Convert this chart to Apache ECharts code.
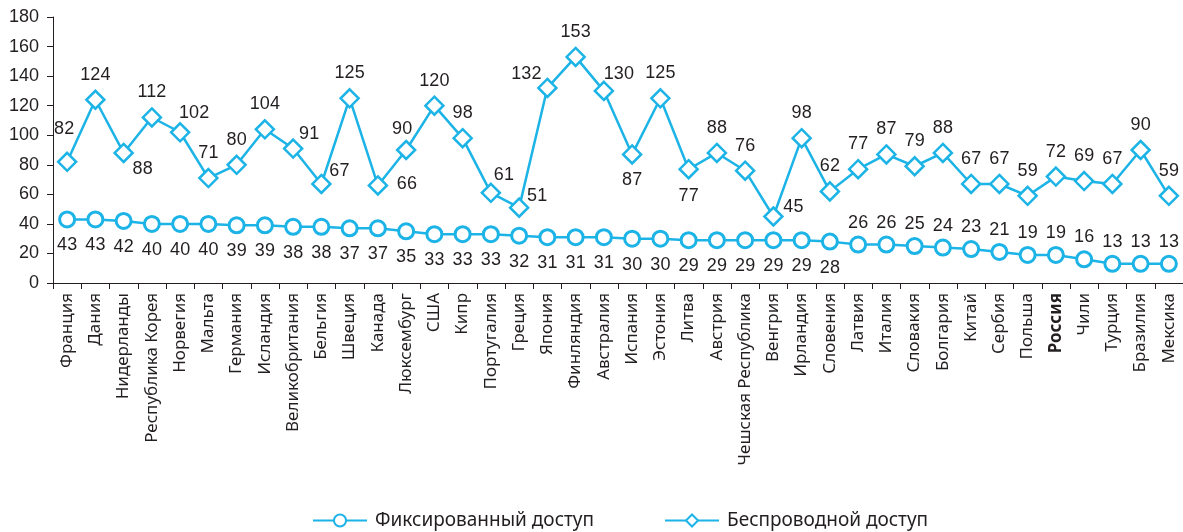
<!DOCTYPE html>
<html>
<head>
<meta charset="utf-8">
<title>Фиксированный и беспроводной доступ</title>
<script src="https://cdn.jsdelivr.net/npm/echarts@6/dist/echarts.min.js"></script>
<style>
  html, body { margin: 0; padding: 0; background: #fff; }
  #chart { width: 1183px; height: 532px; }
</style>
</head>
<body>
<div id="chart"></div>
<script>
// Countries along the horizontal axis
const countries = [
  'Франция', 'Дания', 'Нидерланды', 'Республика Корея', 'Норвегия', 'Мальта',
  'Германия', 'Исландия', 'Великобритания', 'Бельгия', 'Швеция', 'Канада',
  'Люксембург', 'США', 'Кипр', 'Португалия', 'Греция', 'Япония', 'Финляндия',
  'Австралия', 'Испания', 'Эстония', 'Литва', 'Австрия', 'Чешская Республика',
  'Венгрия', 'Ирландия', 'Словения', 'Латвия', 'Италия', 'Словакия', 'Болгария',
  'Китай', 'Сербия', 'Польша', 'Россия', 'Чили', 'Турция', 'Бразилия', 'Мексика'
];

// Fixed broadband
const fixedAccess = [
  43, 43, 42, 40, 40, 40, 39, 39, 38, 38, 37, 37, 35, 33, 33, 33, 32, 31, 31, 31,
  30, 30, 29, 29, 29, 29, 29, 28, 26, 26, 25, 24, 23, 21, 19, 19, 16, 13, 13, 13
];

// Wireless broadband
const wirelessAccess = [
  82, 124, 88, 112, 102, 71, 80, 104, 91, 67, 125, 66, 90, 120, 98, 61, 51, 132, 153, 130,
  87, 125, 77, 88, 76, 45, 98, 62, 77, 87, 79, 88, 67, 67, 59, 72, 69, 67, 90, 59
];

const yTicks = { min: 0, max: 180, step: 20 };

const seriesNames = ['Фиксированный доступ', 'Беспроводной доступ'];
const highlighted = 'Россия';

// ---- styling ----
const LINE = '#1cb3e6';
const INK = '#231f20';
const NUM_FONT = "'Liberation Sans', Arial, sans-serif";
const TXT_FONT = "'Noto Sans', 'Open Sans', sans-serif";

// label nudges for wireless points (pixel offsets from the marker centre)
const wirelessNudge = {
  0: [-3, -33], 2: [19, 16], 4: [14, -19], 8: [16, -14], 9: [18, -13],
  11: [29, -1], 12: [-4, -21], 15: [13, -18], 16: [18, -12], 17: [-21, -14],
  19: [15, -17], 20: [0, 26], 22: [0, 27], 25: [20, -9]
};

const numLabel = (offset) => ({
  show: true,
  position: 'inside',
  offset: offset,
  color: INK,
  fontFamily: NUM_FONT,
  fontSize: 18
});

const fixedData = fixedAccess.map((v, i) => ({
  value: v,
  label: numLabel(i < 28 ? [0, 26] : [0, -22])
}));

const wirelessData = wirelessAccess.map((v, i) => ({
  value: v,
  label: numLabel(wirelessNudge[i] || [0, -25])
}));

const chart = echarts.init(document.getElementById('chart'), null, { renderer: 'canvas' });

chart.setOption({
  animation: false,
  backgroundColor: '#fff',
  grid: { left: 53, top: 17, width: 1134, bottom: 249, containLabel: false },
  legend: {
    left: 307,
    top: 506,
    itemWidth: 54,
    itemHeight: 15,
    itemGap: 70,
    textStyle: { color: INK, fontFamily: TXT_FONT, fontSize: 19, padding: [0, 0, 0, 3] },
    data: seriesNames
  },
  xAxis: {
    type: 'category',
    data: countries,
    boundaryGap: true,
    axisLine: { lineStyle: { color: INK, width: 1 } },
    axisTick: { show: true, length: 6, lineStyle: { color: INK } },
    axisLabel: {
      interval: 0,
      rotate: 90,
      margin: 10,
      color: INK,
      fontFamily: TXT_FONT,
      fontSize: 17,
      formatter: (name) => name === highlighted ? '{b|' + name + '}' : name,
      rich: { b: { fontWeight: 'bold', fontFamily: TXT_FONT, fontSize: 17, color: INK } }
    }
  },
  yAxis: {
    type: 'value',
    min: yTicks.min,
    max: yTicks.max,
    interval: yTicks.step,
    splitLine: { show: false },
    axisLine: { show: true, lineStyle: { color: INK, width: 1 } },
    axisTick: { show: true, length: 6, lineStyle: { color: INK } },
    axisLabel: { color: INK, fontFamily: NUM_FONT, fontSize: 18, margin: 14 }
  },
  series: [
    {
      name: seriesNames[0],
      type: 'line',
      data: fixedData,
      symbol: 'circle',
      symbolSize: 15,
      showAllSymbol: true,
      lineStyle: { color: LINE, width: 2.5, type: 'solid' },
      itemStyle: { color: '#fff', borderColor: LINE, borderWidth: 3 }
    },
    {
      name: seriesNames[1],
      type: 'line',
      data: wirelessData,
      symbol: 'diamond',
      symbolSize: 18,
      showAllSymbol: true,
      lineStyle: { color: LINE, width: 2.5, type: 'solid' },
      itemStyle: { color: '#fff', borderColor: LINE, borderWidth: 2.5 }
    }
  ]
});
</script>
</body>
</html>
